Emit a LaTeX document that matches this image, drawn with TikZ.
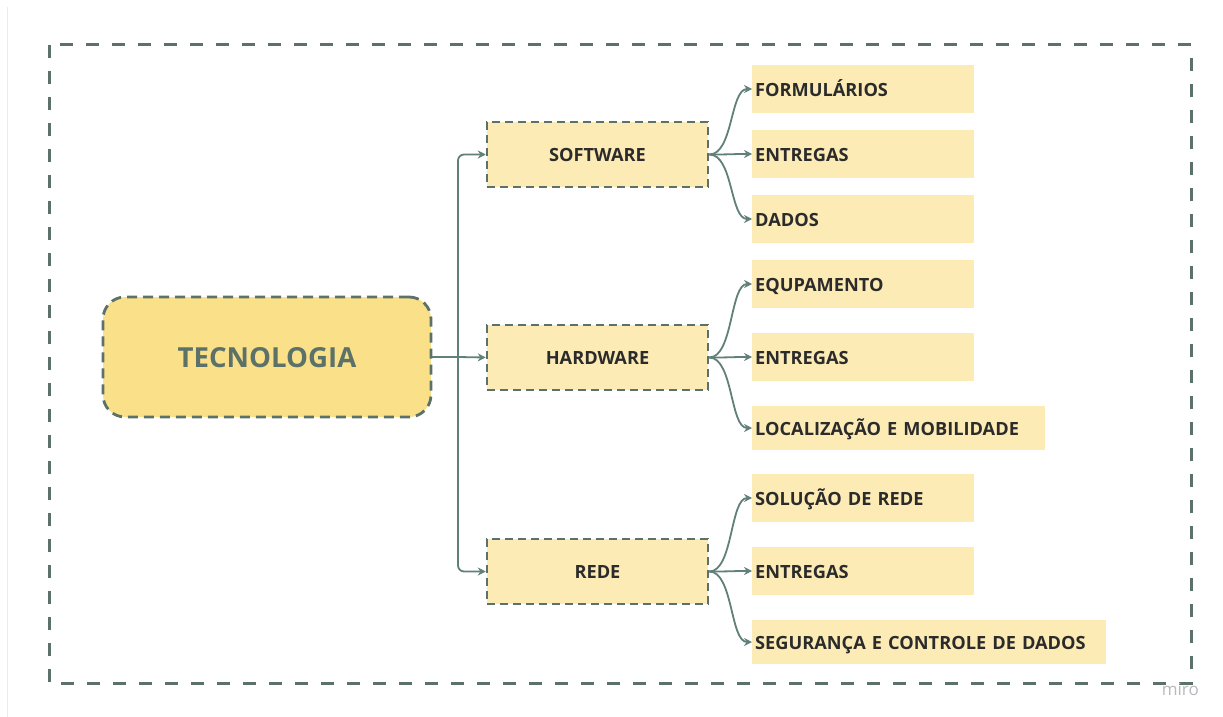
\documentclass[tikz,border=0pt]{standalone}
\usepackage{fontspec}
\setmainfont{Open Sans}
\usetikzlibrary{arrows.meta,calc}
\definecolor{frame}{HTML}{5C7268}
\definecolor{wire}{HTML}{62807A}
\definecolor{gold}{HTML}{FBE08A}
\definecolor{pale}{HTML}{FCEBB5}
\definecolor{ink}{HTML}{2B2B2B}
\definecolor{mark}{HTML}{B8B8C0}
\tikzset{
  outerframe/.style={draw=frame, line width=3pt, dash pattern=on 13pt off 13pt},
  rootbox/.style={draw=frame, fill=gold, line width=2.8pt, dash pattern=on 10pt off 6pt,
    rounded corners=22pt, minimum width=328pt, minimum height=120pt,
    text height=21pt, text depth=0pt,
    text=frame, font=\bfseries\fontsize{27.6}{32}\selectfont},
  midbox/.style={draw=frame, fill=pale, line width=2.5pt, dash pattern=on 8pt off 5pt,
    minimum width=221pt, minimum height=65pt, text=ink,
    text height=14.5pt, text depth=0pt,
    font=\bfseries\fontsize{18.2}{21}\selectfont},
  leafbox/.style={fill=pale, anchor=west, inner xsep=3pt, inner ysep=0pt,
    minimum height=48pt, align=left, text=ink,
    text height=14.9pt, text depth=0pt,
    font=\bfseries\fontsize{18.2}{21}\selectfont},
  conn/.style={draw=wire, line width=1.8pt, -{Stealth[length=8pt,width=8pt]}},
  trunk/.style={draw=wire, line width=1.8pt, rounded corners=6pt},
}
\begin{document}
\begin{tikzpicture}[x=1pt, y=-1pt]
\useasboundingbox (0,0) rectangle (1223,717);
\fill[white] (0,0) rectangle (1223,717);
\draw[black!8, line width=1pt] (7,7) -- (7,717);

% outer frame
\draw[outerframe] (49,45) rectangle (1191,683);

% central topic and branches
\node[rootbox] (tec) at (267,357) {TECNOLOGIA};
\node[midbox] (sw) at (597.5,154.5) {SOFTWARE};
\node[midbox] (hw) at (597.5,357.5) {HARDWARE};
\node[midbox] (rd) at (597.5,571.5) {REDE};

% leaves
\node[leafbox, text width=216pt] (f1) at (752,89) {FORMULÁRIOS};
\node[leafbox, text width=216pt] (f2) at (752,154) {ENTREGAS};
\node[leafbox, text width=216pt] (f3) at (752,219) {DADOS};
\node[leafbox, text width=216pt] (h1) at (752,284) {EQUPAMENTO};
\node[leafbox, text width=216pt] (h2) at (752,357) {ENTREGAS};
\node[leafbox, text width=287pt, minimum height=44pt] (h3) at (752,428) {LOCALIZAÇÃO E MOBILIDADE};
\node[leafbox, text width=216pt] (r1) at (752,498) {SOLUÇÃO DE REDE};
\node[leafbox, text width=216pt] (r2) at (752,571) {ENTREGAS};
\node[leafbox, text width=348pt, minimum height=44pt] (r3) at (752,642) {SEGURANÇA E CONTROLE DE DADOS};

% trunk from the root to the three branches
\coordinate (j) at (458,357);
\draw[trunk] (tec.east) -- (j);
\draw[conn, rounded corners=6pt] (j) |- (sw.west);
\draw[conn] (j) -- (hw.west);
\draw[conn, rounded corners=6pt] (j) |- (rd.west);

% curved links from each branch to its leaves
\foreach \b/\l in {sw/f1, sw/f2, sw/f3, hw/h1, hw/h2, hw/h3, rd/r1, rd/r2, rd/r3}{
  \draw[conn] (\b.east) .. controls ($(\b.east)+(24,0)$) and ($(\l.west)+(-22,0)$) .. (\l.west);
}

\node[text=mark, font=\fontsize{17}{19}\selectfont, anchor=base east, inner sep=0pt] (miro) at (1199,695) {miro};
\end{tikzpicture}
\end{document}
